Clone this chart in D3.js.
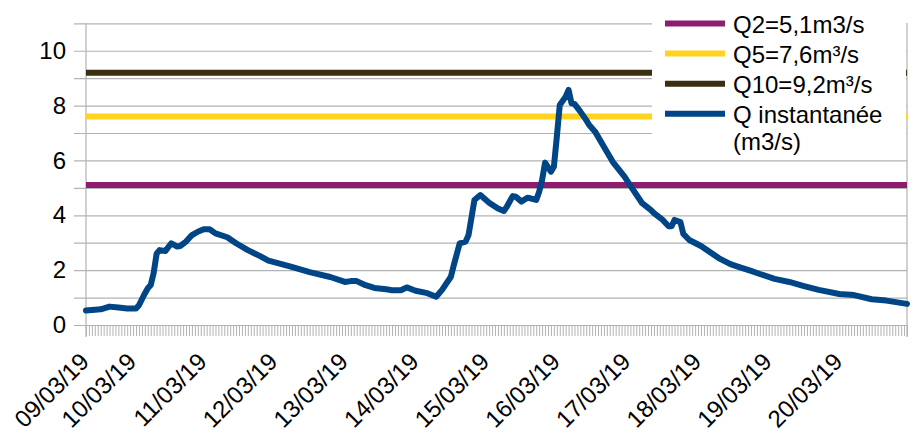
<!DOCTYPE html>
<html>
<head>
<meta charset="utf-8">
<script src="https://cdn.jsdelivr.net/npm/d3@7"></script>
<style>
  html, body { margin: 0; padding: 0; background: #fff; }
  svg { display: block; font-family: "Liberation Sans", Arial, sans-serif; }
</style>
</head>
<body>
<svg id="chart" width="914" height="435"></svg>
<script>
// Instantaneous discharge readings (date-time, m3/s)
const times = [
  "2019-03-09 08:00","2019-03-09 13:00","2019-03-09 16:00","2019-03-09 19:00","2019-03-09 22:00",
  "2019-03-10 01:00","2019-03-10 02:00","2019-03-10 04:00","2019-03-10 05:00","2019-03-10 06:00",
  "2019-03-10 07:00","2019-03-10 08:00","2019-03-10 09:00","2019-03-10 11:00","2019-03-10 13:00",
  "2019-03-10 15:00","2019-03-10 16:00","2019-03-10 18:00","2019-03-10 20:00","2019-03-10 22:00",
  "2019-03-11 00:00","2019-03-11 02:00","2019-03-11 04:00","2019-03-11 08:00","2019-03-11 11:00",
  "2019-03-11 15:00","2019-03-11 19:00","2019-03-11 22:00","2019-03-12 05:00","2019-03-12 12:00",
  "2019-03-12 19:00","2019-03-13 00:00","2019-03-13 02:00","2019-03-13 04:00","2019-03-13 07:00",
  "2019-03-13 10:00","2019-03-13 14:00","2019-03-13 16:00","2019-03-13 19:00","2019-03-13 21:00",
  "2019-03-14 00:00","2019-03-14 04:00","2019-03-14 07:00","2019-03-14 09:00","2019-03-14 12:00",
  "2019-03-14 13:00","2019-03-14 15:00","2019-03-14 17:00","2019-03-14 18:00","2019-03-14 20:00",
  "2019-03-14 22:00","2019-03-15 01:00","2019-03-15 04:00","2019-03-15 06:00","2019-03-15 07:00",
  "2019-03-15 09:00","2019-03-15 10:00","2019-03-15 12:00","2019-03-15 14:00","2019-03-15 15:00",
  "2019-03-15 17:00","2019-03-15 18:00","2019-03-15 19:00","2019-03-15 20:00","2019-03-15 22:00",
  "2019-03-15 23:00","2019-03-16 00:00","2019-03-16 01:00","2019-03-16 03:00","2019-03-16 04:00",
  "2019-03-16 05:00","2019-03-16 06:00","2019-03-16 08:00","2019-03-16 10:00","2019-03-16 11:00",
  "2019-03-16 13:00","2019-03-16 16:00","2019-03-16 19:00","2019-03-16 23:00","2019-03-17 02:00",
  "2019-03-17 05:00","2019-03-17 08:00","2019-03-17 09:00","2019-03-17 12:00","2019-03-17 14:00",
  "2019-03-17 15:00","2019-03-17 16:00","2019-03-17 18:00","2019-03-17 19:00","2019-03-17 21:00",
  "2019-03-18 01:00","2019-03-18 04:00","2019-03-18 07:00","2019-03-18 11:00","2019-03-18 14:00",
  "2019-03-18 18:00","2019-03-18 21:00","2019-03-19 02:00","2019-03-19 07:00","2019-03-19 12:00",
  "2019-03-19 17:00","2019-03-20 00:00","2019-03-20 05:00","2019-03-20 11:00","2019-03-20 16:00",
  "2019-03-20 23:00"
];
const flows = [
  0.53, 0.57, 0.67, 0.64, 0.60,
  0.60, 0.72, 1.15, 1.34, 1.46,
  1.90, 2.60, 2.73, 2.70, 2.98,
  2.86, 2.88, 3.04, 3.28, 3.40,
  3.49, 3.49, 3.34, 3.20, 2.98,
  2.73, 2.52, 2.35, 2.15, 1.93,
  1.75, 1.57, 1.60, 1.60, 1.45,
  1.35, 1.30, 1.27, 1.27, 1.37,
  1.25, 1.16, 1.03, 1.28, 1.76,
  2.19, 2.98, 3.04, 3.28, 4.56,
  4.74, 4.46, 4.25, 4.16, 4.31,
  4.70, 4.68, 4.50, 4.64, 4.62,
  4.56, 4.86, 5.29, 5.92, 5.59,
  5.77, 6.86, 8.02, 8.32, 8.57,
  8.08, 8.06, 7.78, 7.47, 7.29,
  7.05, 6.50, 5.95, 5.41, 4.92,
  4.44, 4.19, 4.08, 3.83, 3.60,
  3.60, 3.83, 3.75, 3.32, 3.10,
  2.88, 2.66, 2.44, 2.22, 2.11,
  1.97, 1.86, 1.68, 1.57, 1.42,
  1.28, 1.13, 1.09, 0.94, 0.89,
  0.77
];

// Return-period reference discharges
const thresholdLabels = ["Q2=5,1m3/s", "Q5=7,6m³/s", "Q10=9,2m³/s"];
const thresholdValues = [5.1, 7.6, 9.2];
const thresholdColors = ["#8e1d70", "#ffd320", "#3a3010"];
const seriesLabel = ["Q instantanée", "(m3/s)"];
const seriesColor = "#004586";

// Axis definitions
const dayLabels = ["09/03/19","10/03/19","11/03/19","12/03/19","13/03/19","14/03/19",
                   "15/03/19","16/03/19","17/03/19","18/03/19","19/03/19","20/03/19"];
const yTickValues = [0, 1, 2, 3, 4, 5, 6, 7, 8, 9, 10, 11];
const yLabelValues = [0, 2, 4, 6, 8, 10];
const timeStart = "2019-03-09 08:00";
const timeEnd = "2019-03-20 23:00";

const parse = d3.timeParse("%Y-%m-%d %H:%M");
const fmtDay = d3.timeFormat("%d/%m/%y");
const data = times.map((t, i) => ({ t: parse(t), v: flows[i] }));

const plotLeft = 86, plotRight = 907, plotTop = 23.3, plotBottom = 325;
const gridColor = "#b3b3b3";

const x = d3.scaleTime().domain([parse(timeStart), parse(timeEnd)]).range([plotLeft, plotRight]);
const y = d3.scaleLinear().domain([0, 11]).range([plotBottom, plotTop]);

const svg = d3.select("#chart");

// Horizontal grid with short outer ticks, labels every 2
const yAxis = d3.axisLeft(y)
  .tickValues(yTickValues)
  .tickSize(-(plotRight - plotLeft + 12))
  .tickPadding(8)
  .tickFormat(d => yLabelValues.includes(d) ? d : "");
const gy = svg.append("g").attr("transform", `translate(${plotLeft - 12},0)`).call(yAxis);
gy.select(".domain").remove();
gy.selectAll("line").attr("stroke", gridColor).attr("stroke-width", 1.2);
gy.selectAll("text").attr("font-size", 24).attr("fill", "#000").attr("font-family", "Liberation Sans, Arial, sans-serif");

// Hourly minor ticks under the axis
const hours = d3.timeHour.range(x.domain()[0], d3.timeHour.offset(x.domain()[1], 1));
const xMinor = d3.axisBottom(x).tickValues(hours).tickSize(11).tickFormat("");
const gxm = svg.append("g").attr("transform", `translate(0,${plotBottom})`).call(xMinor);
gxm.select(".domain").remove();
gxm.selectAll("line").attr("stroke", gridColor).attr("stroke-width", 1);

// Plot frame: left and right borders
svg.append("line").attr("x1", plotLeft).attr("x2", plotLeft).attr("y1", plotTop).attr("y2", plotBottom + 12)
  .attr("stroke", gridColor).attr("stroke-width", 1.2);
svg.append("line").attr("x1", plotRight).attr("x2", plotRight).attr("y1", plotTop).attr("y2", plotBottom + 12)
  .attr("stroke", gridColor).attr("stroke-width", 1.2);

// Day labels (first at axis start, then each midnight), rotated
const dayTicks = dayLabels.map((lab, i) => i === 0 ? parse(timeStart) : d3.timeParse("%d/%m/%y")(lab));
const gxl = svg.append("g");
gxl.selectAll("text").data(dayTicks).join("text")
  .attr("transform", d => `translate(${x(d) + 4.5},363) rotate(-45)`)
  .attr("text-anchor", "end")
  .attr("font-size", 24)
  .attr("fill", "#000")
  .text(d => fmtDay(d));

// Reference discharge lines
svg.append("g").selectAll("line").data(thresholdValues).join("line")
  .attr("x1", plotLeft).attr("x2", plotRight)
  .attr("y1", d => y(d)).attr("y2", d => y(d))
  .attr("stroke", (d, i) => thresholdColors[i])
  .attr("stroke-width", 6);

// Discharge series
const line = d3.line().x(d => x(d.t)).y(d => y(d.v)).curve(d3.curveLinear);
svg.append("path").datum(data)
  .attr("d", line)
  .attr("fill", "none")
  .attr("stroke", seriesColor)
  .attr("stroke-width", 6)
  .attr("stroke-linejoin", "round")
  .attr("stroke-linecap", "round");

// Legend
const legend = svg.append("g");
legend.append("rect").attr("x", 652).attr("y", 0).attr("width", 254).attr("height", 158).attr("fill", "#fff");
const entries = thresholdLabels.map((l, i) => ({ lines: [l], color: thresholdColors[i] }))
  .concat([{ lines: seriesLabel, color: seriesColor }]);
entries.forEach((e, i) => {
  const cy = 23.5 + i * 30.1;
  legend.append("line").attr("x1", 665).attr("x2", 725).attr("y1", cy).attr("y2", cy)
    .attr("stroke", e.color).attr("stroke-width", 6);
  const t = legend.append("text").attr("x", 733).attr("y", cy + 9.5)
    .attr("font-size", 24).attr("fill", "#000");
  e.lines.forEach((s, j) => {
    t.append("tspan").attr("x", 733).attr("dy", j === 0 ? 0 : 26.5).text(s);
  });
});
</script>
</body>
</html>
